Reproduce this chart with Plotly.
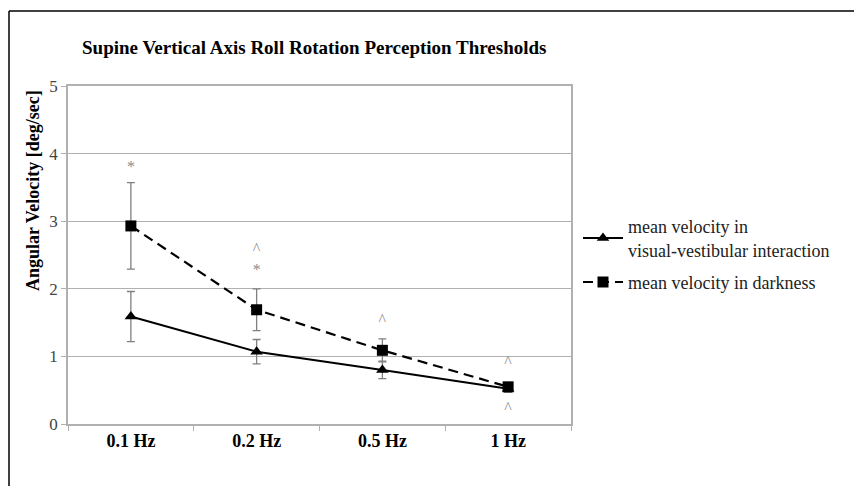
import plotly.graph_objects as go

categories = ["0.1 Hz", "0.2 Hz", "0.5 Hz", "1 Hz"]
vis_mean = [1.59, 1.07, 0.80, 0.52]
vis_err = [0.37, 0.18, 0.13, 0.05]
dark_mean = [2.93, 1.69, 1.09, 0.55]
dark_err = [0.64, 0.31, 0.17, 0.05]
mark_x = ["0.1 Hz", "0.2 Hz", "0.2 Hz", "0.5 Hz", "1 Hz", "1 Hz"]
mark_y = [3.78, 2.57, 2.26, 1.52, 0.90, 0.22]
mark_text = ["*", "^", "*", "^", "^", "^"]

OFF = 8  # page body margin
W, H = 862 - OFF, 486 - OFF
L, R, T, B = 68 - OFF, 571 - OFF, 86 - OFF, 424 - OFF

fig = go.Figure()
fig.add_trace(go.Scatter(
    x=categories, y=vis_mean, mode="lines+markers",
    name="mean velocity in<br>visual-vestibular interaction", legendgroup="a",
    line=dict(color="black", width=2),
    marker=dict(symbol="triangle-up", size=11, color="black"),
    error_y=dict(type="data", array=vis_err, color="#808080", thickness=1.3, width=4),
))
fig.add_trace(go.Scatter(
    x=categories, y=dark_mean, mode="lines+markers",
    name="mean velocity in darkness", legendgroup="b",
    line=dict(color="black", width=2.2, dash="10px,6px"),
    marker=dict(symbol="square", size=11, color="black"),
    error_y=dict(type="data", array=dark_err, color="#808080", thickness=1.3, width=4),
))
fig.add_trace(go.Scatter(
    x=mark_x, y=mark_y, mode="text", text=mark_text, showlegend=False,
    textfont=dict(family="Liberation Serif", size=16, color="#8c8c8c"),
    hoverinfo="skip",
))

px = lambda v: (v - OFF - L) / (R - L)
py = lambda v: (B - (v - OFF)) / (B - T)
fig.add_shape(type="line", xref="paper", yref="paper", x0=px(9), x1=px(9), y0=py(520), y1=py(11),
              line=dict(color="black", width=1.5))
fig.add_shape(type="line", xref="paper", yref="paper", x0=px(9), x1=px(900), y0=py(11), y1=py(11),
              line=dict(color="black", width=1.5))
fig.add_annotation(text="<b>Angular Velocity [deg/sec]</b>", xref="paper", yref="paper",
                   x=px(33), y=py(191), xanchor="center", yanchor="middle", textangle=-90,
                   showarrow=False, font=dict(family="Liberation Serif", size=18, color="black"))

fig.update_layout(
    width=W, height=H,
    margin=dict(l=L, r=W - R, t=T, b=H - B),
    paper_bgcolor="white", plot_bgcolor="white",
    font=dict(family="Liberation Serif", color="black"),
    title=dict(text="<b>Supine Vertical Axis Roll Rotation Perception Thresholds</b>",
               x=(82 - OFF) / W, xanchor="left", y=1 - (47 - OFF) / H, yanchor="middle",
               font=dict(family="Liberation Serif", size=19, color="black")),
    legend=dict(x=px(578), xanchor="left", y=py(208), yanchor="top",
                font=dict(family="Liberation Serif", size=18, color="#222222"),
                bgcolor="rgba(0,0,0,0)", tracegroupgap=6, itemwidth=40),
    xaxis=dict(type="category", showline=True, linecolor="#b0b0b0", linewidth=1.5, mirror=True,
               ticks="outside", tickson="boundaries", ticklen=5, tickcolor="#b0b0b0",
               showgrid=False,
               tickfont=dict(family="Liberation Serif", size=18, color="black"),
               range=[-0.5, 3.5]),
    yaxis=dict(range=[0, 5], dtick=1, showline=True, linecolor="#b0b0b0", linewidth=1.5, mirror=True,
               ticks="outside", ticklen=5, tickcolor="#b0b0b0",
               gridcolor="#b0b0b0", gridwidth=1.2, zeroline=False,
               tickfont=dict(family="Liberation Serif", size=17, color="#444444")),
)
fig.for_each_xaxis(lambda a: a.update(tickprefix="<b>", ticksuffix="</b>"))
fig.write_html("out.html")
